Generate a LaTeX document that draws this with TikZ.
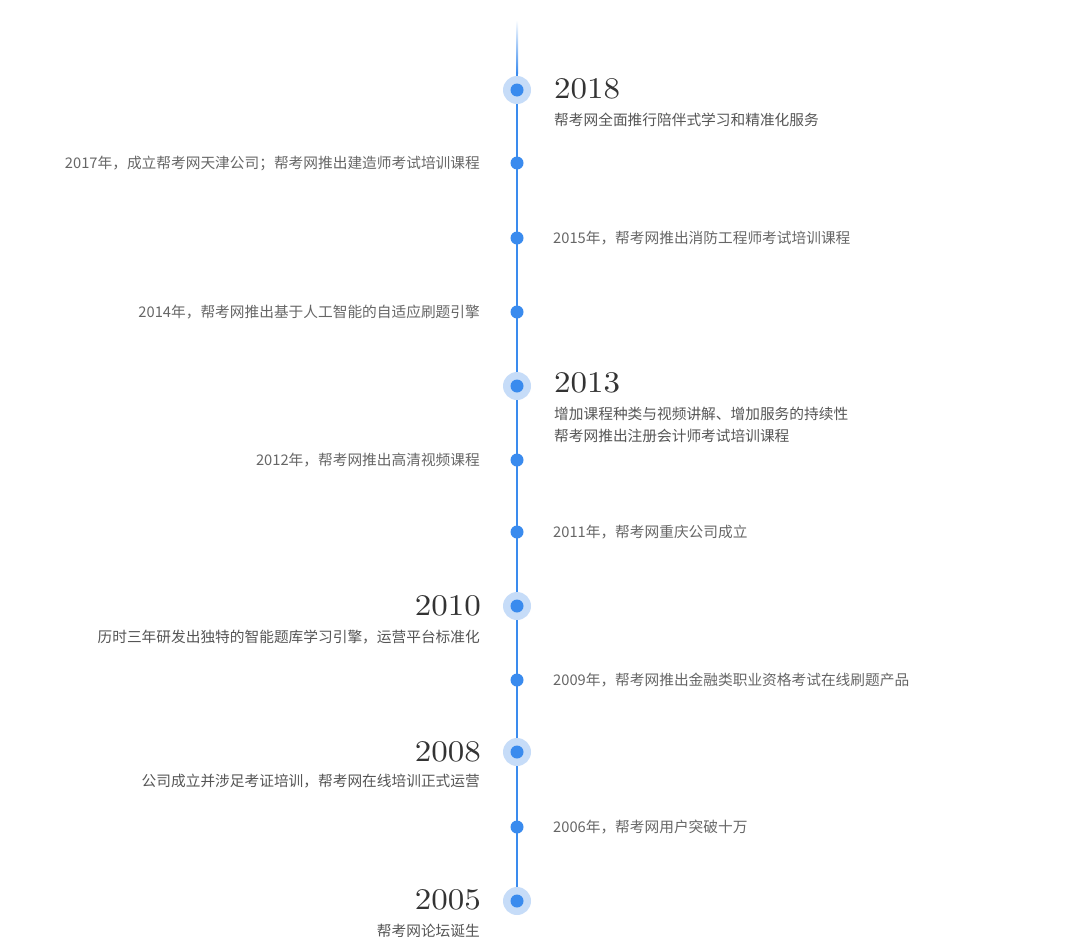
\documentclass[tikz,border=0pt]{standalone}
\usepackage{fontspec}
\newfontfamily\cjk{Noto Sans CJK SC}
\newfontfamily\yearfont{lmroman10-regular}[Extension=.otf, FakeStretch=1.1]
\definecolor{lineblue}{HTML}{3A8BEE}
\definecolor{haloblue}{HTML}{C6DCF8}
\definecolor{yeargray}{HTML}{333333}
\definecolor{subgray}{HTML}{555555}
\definecolor{eventgray}{HTML}{666666}
\begin{document}
\begin{tikzpicture}[x=1pt, y=-1pt,
  axis/.style = {lineblue, line width=2pt},
  dot/.style = {circle, fill=lineblue, inner sep=0, minimum size=13pt},
  halo/.style = {circle, fill=haloblue, inner sep=0, minimum size=28pt},
  year/.style = {inner sep=0, text=yeargray, font=\yearfont\fontsize{30}{30}\selectfont},
  sub/.style = {inner sep=0, text=subgray, align=left, font=\cjk\fontsize{14.7}{22}\selectfont},
  event/.style = {inner sep=0, text=eventgray, font=\cjk\fontsize{14.7}{22}\selectfont}]
  \useasboundingbox (0, 0) rectangle (1082, 937);
  \coordinate (top) at (517, 72);
  \coordinate (bottom) at (517, 901);
  \shade[top color=white, bottom color=lineblue] (516, 20) rectangle (518, 73);
  \draw[axis] (top) -- (bottom);
  % major years
  \node[halo] at (517, 90) (h2018) {};
  \node[dot] at (517, 90) (d2018) {};
  \node[halo] at (517, 386) (h2013) {};
  \node[dot] at (517, 386) (d2013) {};
  \node[halo] at (517, 606) (h2010) {};
  \node[dot] at (517, 606) (d2010) {};
  \node[halo] at (517, 752) (h2008) {};
  \node[dot] at (517, 752) (d2008) {};
  \node[halo] at (517, 901) (h2005) {};
  \node[dot] at (517, 901) (d2005) {};
  % minor events
  \node[dot] at (517, 163) (d2017) {};
  \node[dot] at (517, 238) (d2015) {};
  \node[dot] at (517, 312) (d2014) {};
  \node[dot] at (517, 460) (d2012) {};
  \node[dot] at (517, 532) (d2011) {};
  \node[dot] at (517, 680) (d2009) {};
  \node[dot] at (517, 827) (d2006) {};
  % labels
  \node[year, anchor=west] at (554, 89) (y2018) {2018};
  \node[sub, anchor=west] at (554, 120) (s2018) {帮考网全面推行陪伴式学习和精准化服务};
  \node[event, anchor=east] at (480, 163) (e2017) {2017年，成立帮考网天津公司；帮考网推出建造师考试培训课程};
  \node[event, anchor=west] at (553, 238) (e2015) {2015年，帮考网推出消防工程师考试培训课程};
  \node[event, anchor=east] at (480, 312) (e2014) {2014年，帮考网推出基于人工智能的自适应刷题引擎};
  \node[year, anchor=west] at (554, 383) (y2013) {2013};
  \node[sub, anchor=west] at (554, 425) (s2013) {增加课程种类与视频讲解、增加服务的持续性\\帮考网推出注册会计师考试培训课程};
  \node[event, anchor=east] at (480, 460) (e2012) {2012年，帮考网推出高清视频课程};
  \node[event, anchor=west] at (553, 532) (e2011) {2011年，帮考网重庆公司成立};
  \node[year, anchor=east] at (481, 606) (y2010) {2010};
  \node[sub, anchor=east] at (480, 637) (s2010) {历时三年研发出独特的智能题库学习引擎，运营平台标准化};
  \node[event, anchor=west] at (553, 680) (e2009) {2009年，帮考网推出金融类职业资格考试在线刷题产品};
  \node[year, anchor=east] at (481, 752) (y2008) {2008};
  \node[sub, anchor=east] at (480, 781) (s2008) {公司成立并涉足考证培训，帮考网在线培训正式运营};
  \node[event, anchor=west] at (553, 827) (e2006) {2006年，帮考网用户突破十万};
  \node[year, anchor=east] at (481, 900) (y2005) {2005};
  \node[sub, anchor=east] at (480, 931) (s2005) {帮考网论坛诞生};
\end{tikzpicture}
\end{document}
